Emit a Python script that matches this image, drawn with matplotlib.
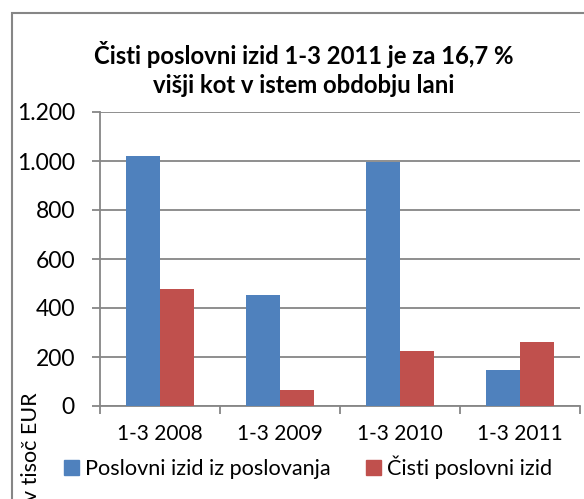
import matplotlib
matplotlib.use('Agg')
import matplotlib.pyplot as plt
import numpy as np
from matplotlib.patches import Rectangle, Patch

categories = ['1-3 2008', '1-3 2009', '1-3 2010', '1-3 2011']
poslovni = [1020, 455, 995, 147]
cisti = [477, 64, 225, 263]
series_names = ['Poslovni izid iz poslovanja', 'Čisti poslovni izid']
title = 'Čisti poslovni izid 1-3 2011 je za 16,7 %\nvišji kot v istem obdobju lani'
ylabel = 'v tisoč EUR'
yticks = [0, 200, 400, 600, 800, 1000, 1200]
ytick_labels = ['0', '200', '400', '600', '800', '1.000', '1.200']

blue = '#4F81BD'
red = '#C0504D'
gray = '#868686'

plt.rcParams['font.family'] = ['Lato', 'DejaVu Sans']

fig = plt.figure(figsize=(5.84, 4.99), dpi=100)
W, H = 584, 499
ax = fig.add_axes([100 / W, 1 - 406 / H, 480 / W, 294 / H])

x = np.arange(len(categories))
bw = 0.2857
ax.bar(x - bw / 2, poslovni, bw, color=blue, zorder=3)
ax.bar(x + bw / 2, cisti, bw, color=red, zorder=3)

ax.set_xlim(-0.5, len(categories) - 0.5)
ax.set_ylim(0, 1200)
ax.set_yticks(yticks)
ax.set_yticklabels(ytick_labels)
ax.yaxis.grid(True, color=gray, lw=1.3, zorder=0)
ax.set_xticks(x)
ax.set_xticklabels(categories)
ax.set_xticks(np.arange(len(categories) + 1) - 0.5, minor=True)
ax.tick_params(axis='x', which='major', length=0, pad=13, labelsize=15, colors='black')
ax.tick_params(axis='x', which='minor', length=6, width=1.3, color=gray)
ax.tick_params(axis='y', length=6, width=1.3, color=gray, pad=12, labelsize=16.5)
for s in ['top', 'right']:
    ax.spines[s].set_visible(False)
for s in ['left', 'bottom']:
    ax.spines[s].set_color(gray)
    ax.spines[s].set_linewidth(1.3)

fig.text(304 / W, 1 - 69 / H, title, ha='center', va='center', fontsize=17.2,
         fontweight='bold', linespacing=1.3)
fig.text(31 / W, 1 - 392 / H, ylabel, rotation=90, ha='center', va='top', fontsize=15.5)

handles = [Patch(color=blue), Patch(color=red)]
fig.legend(handles, series_names, loc='center', bbox_to_anchor=(308 / W, 1 - 467 / H),
           ncol=2, frameon=False, fontsize=15.6, handlelength=0.7, handleheight=0.7,
           handletextpad=0.3, columnspacing=1.6, borderaxespad=0)

fig.patches.append(Rectangle((12 / W, -0.1), 1, 1 - 13.5 / H + 0.1, transform=fig.transFigure,
                             fill=False, edgecolor=gray, lw=1.5))

fig.savefig('out.png', dpi=100)
